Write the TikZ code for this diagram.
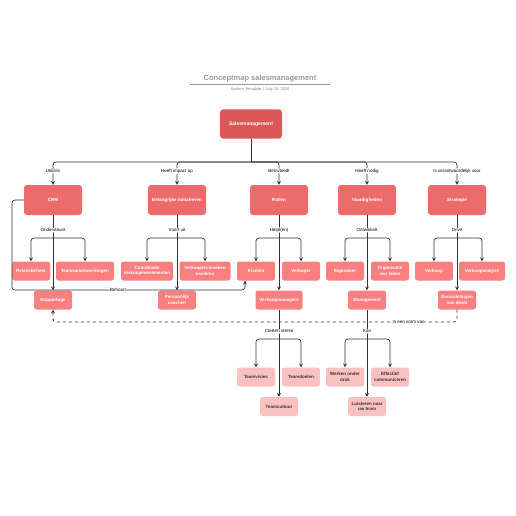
\documentclass[tikz,border=0pt]{standalone}
\usepackage{fontspec}
\setmainfont{Liberation Sans}
\usetikzlibrary{positioning,calc}
\definecolor{rootred}{HTML}{D95757}
\definecolor{mainred}{HTML}{EC6B6B}
\definecolor{subred}{HTML}{FA7F7F}
\definecolor{leafpink}{HTML}{FBC1C1}

\begin{document}
\begin{tikzpicture}[x=1pt,y=-1pt]
            \tikzstyle{topbox}=[rectangle, rounded corners=3pt, fill=rootred,
            text=white, font=\fontsize{5}{6}\selectfont\bfseries,
            minimum width=62pt, minimum height=29pt, align=center]
            \tikzstyle{mainbox}=[topbox, fill=mainred, minimum width=58pt,
            minimum height=30pt, font=\fontsize{4.6}{5.5}\selectfont\bfseries]
            \tikzstyle{subbox}=[rectangle, rounded corners=2.5pt, fill=subred,
            text=white, font=\fontsize{4.5}{5.4}\selectfont\bfseries,
            minimum width=38pt, minimum height=19pt, inner sep=1pt, align=center]
            \tikzstyle{leafbox}=[subbox, fill=leafpink, text=black!80]
            \tikzstyle{lbl}=[fill=white, inner sep=0.6pt,
            font=\fontsize{4.5}{5}\selectfont]
            \tikzstyle{line}=[draw=black!80, line width=0.7pt, rounded corners=3pt]
            \tikzstyle{conn}=[line, ->, >=stealth]
            \useasboundingbox (0,0) rectangle (516,516);
            % title
            \node[font=\fontsize{7.5}{8}\selectfont\bfseries, text=black!40] (title) at (260,79) {Conceptmap salesmanagement};
            \draw[black!40, line width=0.4pt] (190,84) -- (330,84);
            \node[font=\fontsize{4}{4.5}\selectfont, text=black!50] (subtitle) at (260,89) {System Template \ |\ July 15, 2020};
            % nodes
            \node[topbox] (sales) at (251,124) {Salesmanagement};
            \node[mainbox] (crm) at (53,200) {CRM};
            \node[mainbox] (init) at (177,200) {Belangrijke initiatieven};
            \node[mainbox] (rollen) at (279,200) {Rollen};
            \node[mainbox] (vaard) at (367,200) {Vaardigheden};
            \node[mainbox] (strat) at (457,200) {Strategie};
            \node[subbox] (relatie) at (31,271) {Relatiebeheer};
            \node[subbox, minimum width=58pt] (teamsam) at (85,271) {Teamsamenwerkingen};
            \node[subbox] (rapport) at (53,300) {Rapportage};
            \node[subbox, minimum width=52pt] (coord) at (147,271) {Coördinatie\\verkoopevenementen};
            \node[subbox, minimum width=51pt] (techniek) at (205,271) {Verkooptechnieken\\aanleren};
            \node[subbox] (coach) at (177,300) {Persoonlijk\\coachen};
            \node[subbox] (klanten) at (256,271) {Klanten};
            \node[subbox] (verkoper) at (301,271) {Verkoper};
            \node[subbox, minimum width=47pt] (managers) at (279,300) {Verkoopmanagers};
            \node[subbox] (eigendom) at (345,271) {Eigendom};
            \node[subbox] (organis) at (390,271) {Organisatie\\van taken};
            \node[subbox] (manage) at (367,300) {Management};
            \node[subbox] (verkoop) at (434,271) {Verkoop};
            \node[subbox, minimum width=46pt] (analyse) at (482,271) {Verkoopanalyse};
            \node[subbox] (deals) at (457,300) {Beoordelingen\\van deals};
            \node[leafbox] (visies) at (256,377) {Teamvisies};
            \node[leafbox] (doelen) at (301,377) {Teamdoelen};
            \node[leafbox] (cultuur) at (279,406.5) {Teamcultuur};
            \node[leafbox] (druk) at (345,377) {Werken onder\\druk};
            \node[leafbox] (commun) at (390,377) {Effectief\\communiceren};
            \node[leafbox] (luister) at (367,406.5) {Luisteren naar\\uw team};
            % hubs
            \coordinate (hub) at (251,162);
            \coordinate (crmhub) at (53,238);
            \coordinate (inithub) at (177,238);
            \coordinate (rolhub) at (279,238);
            \coordinate (vaardhub) at (367,238);
            \coordinate (strathub) at (457,238);
            \coordinate (mgrhub) at (279,339);
            \coordinate (manhub) at (367,339);
            % root
            \draw[line] (sales) -- (hub);
            \draw[conn] (hub) -| node[lbl, pos=0.7] (l1) {Utilizes} (crm);
            \draw[conn] (hub) -| node[lbl, pos=0.7] (l2) {Heeft impact op} (init);
            \draw[conn] (hub) -| node[lbl, pos=0.7] (l3) {Beïnvloedt} (rollen);
            \draw[conn] (hub) -| node[lbl, pos=0.7] (l4) {Heeft nodig} (vaard);
            \draw[conn] (hub) -| node[lbl, pos=0.7] (l5) {Is verantwoordelijk voor} (strat);
            % level 2
            \draw[line] (crm) -- node[lbl, pos=0.65] (l6) {Ondersteunt} (crmhub);
            \draw[conn] (crmhub) -| (relatie);
            \draw[conn] (crmhub) -| (teamsam);
            \draw[conn] (crmhub) -- (rapport);
            \draw[line] (init) -- node[lbl, pos=0.65] (l7) {Voert uit} (inithub);
            \draw[conn] (inithub) -| (coord);
            \draw[conn] (inithub) -| (techniek);
            \draw[conn] (inithub) -- (coach);
            \draw[line] (rollen) -- node[lbl, pos=0.65] (l8) {Helpt(en)} (rolhub);
            \draw[conn] (rolhub) -| (klanten);
            \draw[conn] (rolhub) -| (verkoper);
            \draw[conn] (rolhub) -- (managers);
            \draw[line] (vaard) -- node[lbl, pos=0.65] (l9) {Ontwikkelt} (vaardhub);
            \draw[conn] (vaardhub) -| (eigendom);
            \draw[conn] (vaardhub) -| (organis);
            \draw[conn] (vaardhub) -- (manage);
            \draw[line] (strat) -- node[lbl, pos=0.65] (l10) {Drive} (strathub);
            \draw[conn] (strathub) -| (verkoop);
            \draw[conn] (strathub) -| (analyse);
            \draw[conn] (strathub) -- (deals);
            % level 3
            \draw[line] (managers) -- node[lbl, pos=0.74] (l11) {Creëert sterke} (mgrhub);
            \draw[conn] (mgrhub) -| (visies);
            \draw[conn] (mgrhub) -| (doelen);
            \draw[conn] (mgrhub) -- (cultuur);
            \draw[line] (manage) -- node[lbl, pos=0.74] (l12) {Kan} (manhub);
            \draw[conn] (manhub) -| (druk);
            \draw[conn] (manhub) -| (commun);
            \draw[conn] (manhub) -- (luister);
            % cross links
            \coordinate (b1) at (12,290);
            \coordinate (b2) at (245,290);
            \draw[conn] (crm.west) -| (b1) -- node[lbl, pos=0.455] (l13) {Behoort} (b2) -- (klanten.south -| b2);
            \coordinate (d1) at (53,322);
            \draw[conn, dashed] (deals.south) |- node[lbl, pos=0.56] (l14) {Is een vorm van} (d1) -- (rapport.south);
        \end{tikzpicture}
\end{document}
